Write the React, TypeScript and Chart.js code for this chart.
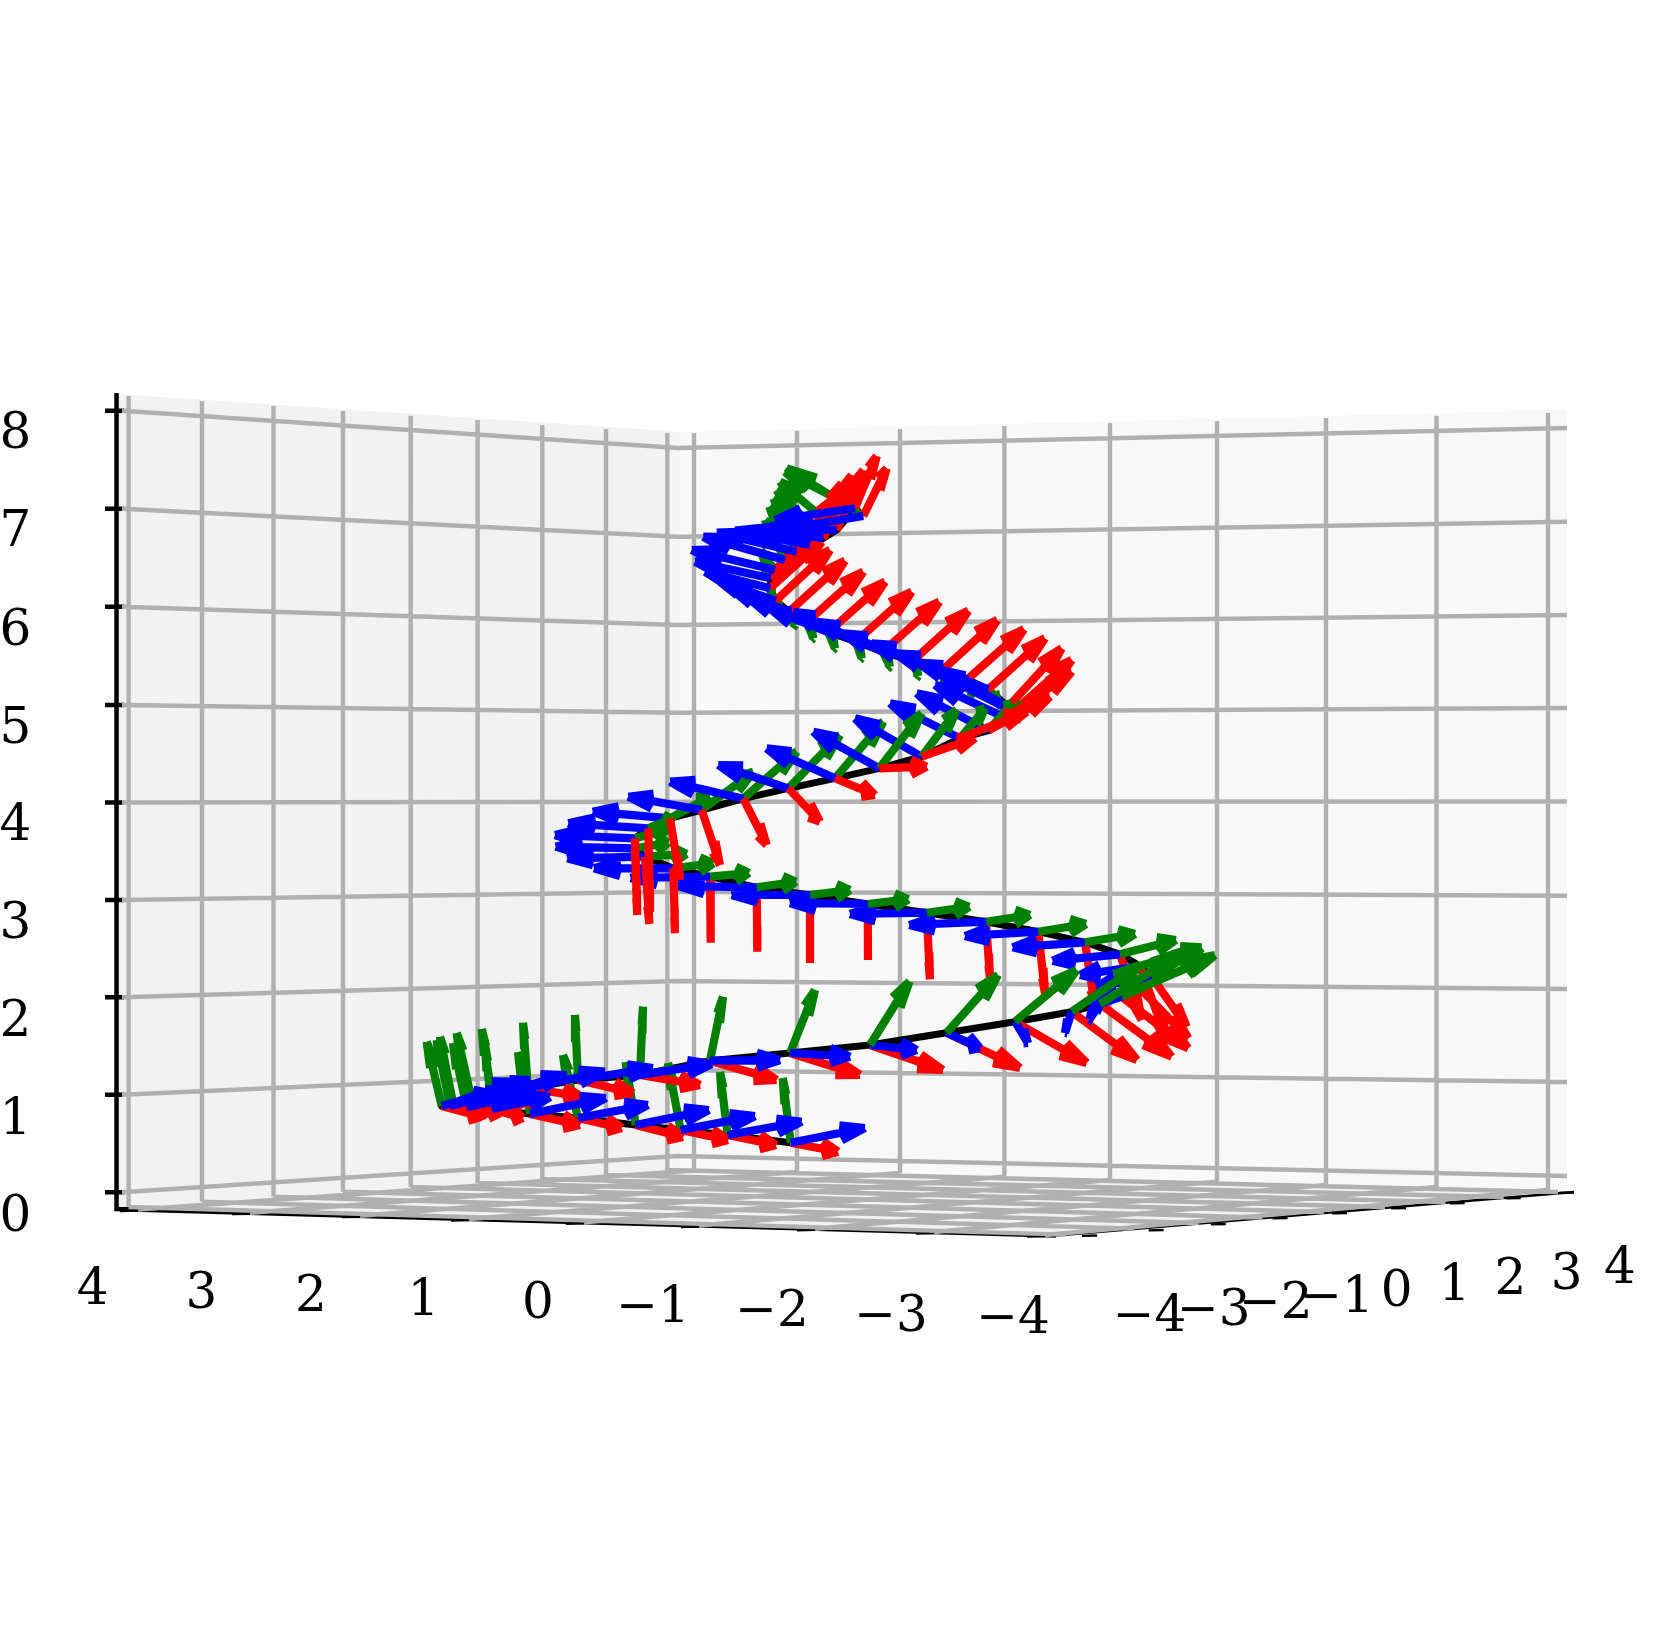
import React, { useEffect, useRef } from "react";
import { Chart, registerables } from "chart.js";

Chart.register(...registerables);

// ---- frames along the helix (image units) ----
const helixX = [790.7,727.7,680.7,635.7,578,530,491.7,466.7,450,441.7,453,471.7,491.7,528,578,640,710,790,870,946.7,1015,1071.7,1100,1121.7,1140,1151.7,1140,1120,1085,1038.3,986,926.7,867.7,810,756.7,710,673.3,645,635,635,648.3,670,701.7,743.3,788.3,835,879.3,921.7,960,988.3,1006.7,1013.3,1008.3,988.3,967.3,941.7,912.3,882.7,855.7,828.3,806.7,789,775.7,770,770.7,775,785,796.7,810,823.3,836.7,855,863.3];
const helixY = [1142.7,1135,1130,1125,1118,1114,1109,1107.3,1106,1106,1103,1100,1095,1088,1080,1075,1060.7,1053,1045,1032.7,1021.7,1011.7,1004,996.7,988.3,976.7,966,954.3,942.3,931.7,921.7,912.7,904,895,887.3,876.7,868.3,856.7,848.3,838.3,828.3,818.3,810,798.7,788.3,778.3,768.3,756.7,738.3,730.7,718.3,711.7,706.7,689.3,679.3,670.7,661.3,651.7,641.7,632.3,622.3,611.7,600.7,588.3,578.3,570,560,551.7,545,538.3,530,508.3,516];
const redTipX = [838,776,728,683,621.7,580,523,500,485,481.7,496.7,525,543,581.7,633,700,776.7,860,943,1020,1086.7,1137,1171.7,1188.3,1188.3,1186.7,1166.7,1141.7,1095,1045,990,930,868,810,757.3,710.7,675,649.3,637.3,637,650,680,720,766.7,820,875,926.7,975,1026.7,1050,1071.7,1071.7,1061.7,1045,1024,997.3,968.3,939.3,911.7,885,863.3,845,830,821.7,816.7,813.3,823.3,831.7,841.7,851.7,863.3,876.7,886.7];
const redTipY = [1151.7,1145,1140,1137,1128,1125,1118,1113,1115,1116.7,1110,1103,1099,1096.7,1093,1085,1080,1075,1070,1068,1063,1060,1056.7,1048.3,1038.3,1026.7,1040,1020,1006.7,993.3,978.3,979.3,960,963,951.7,942.7,933.3,924,915,905,912,880,865,845,821.7,795,766.7,738,711.7,696.7,671.7,660,648.3,638.3,629.3,620,610.7,601.7,591.7,581.7,571.7,560.7,550,541.7,543.3,530,520,500,483.3,475,470,456,468.3];
const greenTipX = [782.7,720,668,625.7,563,518,485,453,436.7,426.7,440,456.7,481.7,523,575,643,723,815,909.5,998,1076.7,1140,1185,1215,1213.3,1201.7,1201.7,1176,1135,1086,1030,969.3,908.3,850,796,749,713.3,686.7,668.3,666.7,671,710,753.3,796.7,840,883.3,921.7,956.7,985,1011.7,1021.7,1018,1013.3,998.3,971.7,945,918.3,890,861.7,835,813.3,795,780,771.7,765,761.7,765,769.3,773.3,776.7,780,785,786.7];
const greenTipY = [1078,1072,1063,1062,1055,1052,1045,1043,1040,1041.7,1036.7,1033,1029,1022.7,1015,1006.7,996.7,990,981.5,975,970,965,950,955,956.7,948.3,947.3,940,934,924,915,906.7,899.3,890,881.7,873,863.3,854,842.7,830,818.7,796.7,771.7,751.7,735,721.7,713.3,710,708.3,703.3,706.7,716.7,713.3,703.3,694,685,676,666.7,658.3,648.3,638.3,625,613.3,596.7,570,553.3,520,506.7,498.3,490,481.7,471.7,468.3];
const blueTipX = [865,801.7,755,709,648,606,550,530,503,490,513,530,566.7,605,653,711.7,780,850,916.7,980,1028,1065,1089.3,1091.7,1096.7,1096.7,1080,1052.7,1012.7,965,909.3,850,790,731.7,678,630.7,594,567.3,555.7,555,568.3,592.7,628.3,670,718.3,766.7,813.3,855,890,916.7,935,941.7,940,918.3,895,871.7,843.3,816.7,793.3,771.7,750.7,733.3,720,705,695,691.7,703.3,716.7,735,755,773.3,775,788.3];
const blueTipY = [1128,1121.7,1116,1110,1105,1098,1097,1093,1092,1093,1081.7,1080,1075,1071.7,1068,1064,1060,1056.7,1050,1048,1043,1033,1019.3,1006.7,996.7,986.7,975,960.7,947.3,936,925,914,903,895,886,878,868.3,858.3,846.7,835,823.3,811.7,796.7,781.7,765,748.3,731.7,718.3,703.3,693.3,685,675,670,662.7,653.3,643.3,633.3,621.7,611.7,610,600,590.7,581.7,571.7,561.7,550,536.7,532.7,530.7,529.3,528.3,520,528.3];

// painting: frame ranges and the colours from bottom to top
const paintFrom = [0, 18, 36, 51, 42, 46];
const paintTo = [17, 35, 41, 72, 45, 50];
const paintLayers = ["grb", "rbg", "bgr", "grb", "gbr", "bgr"];

// ---- grid ----
const zLeftY = [1192.3,1094.7,997.3,900,802.5,705,606.7,508.7,410.7];
const zCornerY = [1156,1070,981,891.7,801.7,712.7,625,536.7,448];
const zRightY = [1176,1082,989,895.7,801.5,708,615,521.7,428];
const leftGridX = [128.6,202,273.5,343,410.7,477.6,542.3,606,667.3];
const leftGridTop = [396,401,406,411,415.7,420,425,429,433];
const leftGridBottom = [1207,1201.7,1196.7,1191.7,1187,1183,1179,1175,1170];
const rightGridX = [694,797,900,1004.4,1110,1217,1326,1436.5,1548];
const rightGridTop = [433,430.7,429,426,423,421,418,415.7,413];
const rightGridBottom = [1170.5,1172,1173,1176.7,1180,1181.7,1185,1187,1190];
const frontLeftX = [138,250,360,469,584,699,815,934,1045];
const frontLeftY = [1209.5,1212.7,1215.7,1219,1222.3,1225.5,1228.8,1232,1235];
const frontRightX = [1066,1134.6,1198.8,1262.5,1324,1385,1445.6,1503.7,1558];
const frontRightY = [1234.6,1228.6,1223,1217.5,1212,1207,1202,1197,1192];
const rightTickEndX = [1097,1163.6,1225.8,1287.5,1347,1406,1464.6,1520.7,1574];
const rightTickEndY = [1235.5,1230,1224,1218,1213,1208,1203,1198,1192.5];

// ---- panes ----
const leftPaneX = [116.5,670,670,116.5];
const leftPaneY = [394,431,1171,1209];
const bandPaneX = [670,680,680,670];
const bandPaneY = [431,432,1170,1171];
const rightPaneX = [680,1567,1567,680];
const rightPaneY = [432,410,1190,1170];
const floorPaneX = [116.5,1056,1574,680];
const floorPaneY = [1209,1235.5,1192,1170];

// ---- tick labels ----
const zLabels = ["0","1","2","3","4","5","6","7","8"];
const zLabelX = [15.5,15.5,15.5,15.5,15.5,15.5,15.5,15.5,15.5];
const zLabelY = [1213,1116,1018,920,822,724.6,626.7,528,430];
const xLabels = ["4","3","2","1","0","\u22121","\u22122","\u22123","\u22124"];
const xLabelX = [92.6,201.5,311,423.5,538,653,772,891,1013];
const xLabelY = [1286,1290,1293.3,1296.7,1300,1303.7,1307.5,1312.5,1315];
const yLabels = ["\u22124","\u22123","\u22122","\u22121","0","1","2","3","4"];
const yLabelX = [1149.5,1213.8,1275.8,1337,1396.7,1454.4,1510.5,1566.6,1620];
const yLabelY = [1313,1306.7,1300,1294.3,1288,1281.7,1276,1270.7,1265];

type P = { x: number; y: number };
const GAP: P = { x: NaN, y: NaN };

const COLORS: Record<string, [number[], number[]]> = {
  r: [redTipX, redTipY],
  g: [greenTipX, greenTipY],
  b: [blueTipX, blueTipY],
};
const HUES: Record<string, string> = { r: "#ff0000", g: "#008000", b: "#0000ff" };

// one quiver arrow: a shaft and two barbs that spread in the plane holding the vertical
function arrowPoints(bx: number, by: number, tx: number, ty: number): P[] {
  const dx = tx - bx;
  const dy = ty - by;
  const h = Math.max(Math.sqrt(Math.max(85 * 85 - dy * dy, 0)), 25);
  const sx = (dy * dx) / h;
  const sy = -h;
  const k = 0.09;
  const ax = tx - 0.33 * dx;
  const ay = ty - 0.33 * dy;
  return [
    { x: bx, y: by }, { x: tx, y: ty }, GAP,
    { x: ax + k * sx, y: ay + k * sy }, { x: tx, y: ty }, GAP,
    { x: ax - k * sx, y: ay - k * sy }, { x: tx, y: ty }, GAP,
  ];
}

function line(data: P[], color: string, width: number, join: CanvasLineJoin = "bevel") {
  return {
    data,
    showLine: true,
    borderColor: color,
    backgroundColor: color,
    borderWidth: width,
    borderCapStyle: "butt" as const,
    borderJoinStyle: join,
    pointRadius: 0,
    pointHoverRadius: 0,
    tension: 0,
    fill: false,
    spanGaps: false,
    clip: false,
  };
}

function pane(xs: number[], ys: number[], color: string) {
  return {
    ...line(xs.map((x, i) => ({ x, y: ys[i] })), color, 0),
    backgroundColor: color,
    fill: "shape",
  };
}

function buildDatasets() {
  const painted: any[] = [];
  painted.push(pane(leftPaneX, leftPaneY, "#f2f2f2"));
  painted.push(pane(rightPaneX, rightPaneY, "#f8f8f8"));
  painted.push(pane(bandPaneX, bandPaneY, "#f5f5f5"));
  painted.push(pane(floorPaneX, floorPaneY, "#f1f1f1"));

  // spines
  painted.push(line([{ x: 116.5, y: 393 }, { x: 116.5, y: 1209 }, { x: 1056, y: 1235.5 }], "#000000", 4.5, "miter"));
  painted.push(line([{ x: 1056, y: 1235.5 }, { x: 1574, y: 1192 }], "#000000", 2.4));

  // ticks
  const ticks: P[] = [];
  zLeftY.forEach((y) => ticks.push({ x: 105, y }, { x: 124, y }, GAP));
  frontLeftX.forEach((x, i) => ticks.push({ x, y: frontLeftY[i] }, { x: x - 18, y: frontLeftY[i] + 0.4 }, GAP));
  painted.push(line(ticks, "#000000", 4.5));
  const thinTicks: P[] = [];
  rightTickEndX.forEach((x, i) => thinTicks.push({ x: x - 15, y: rightTickEndY[i] + 0.4 }, { x, y: rightTickEndY[i] }, GAP));
  painted.push(line(thinTicks, "#000000", 2.4));

  // grid
  const grid: P[] = [];
  zLeftY.forEach((y, i) => {
    grid.push({ x: 122, y }, { x: 678, y: zCornerY[i] }, { x: 1567, y: zRightY[i] }, GAP);
  });
  leftGridX.forEach((x, i) => grid.push({ x, y: leftGridTop[i] }, { x, y: leftGridBottom[i] }, GAP));
  rightGridX.forEach((x, i) => grid.push({ x, y: rightGridTop[i] }, { x, y: rightGridBottom[i] }, GAP));
  leftGridX.forEach((x, i) => grid.push({ x, y: leftGridBottom[i] }, { x: frontRightX[i], y: frontRightY[i] }, GAP));
  rightGridX.forEach((x, i) => grid.push({ x, y: rightGridBottom[i] }, { x: frontLeftX[i], y: frontLeftY[i] }, GAP));
  painted.push(line(grid, "#b0b0b0", 4.4));

  // helix
  painted.push(line(helixX.map((x, i) => ({ x, y: helixY[i] })), "#000000", 7, "round"));

  // arrows
  paintLayers.forEach((layers, s) => {
    for (const c of layers) {
      const [tx, ty] = COLORS[c];
      const pts: P[] = [];
      for (let i = paintFrom[s]; i <= paintTo[s]; i++) {
        pts.push(...arrowPoints(helixX[i], helixY[i], tx[i], ty[i]));
      }
      painted.push(line(pts, HUES[c], 8.2));
    }
  });

  return painted.map((d, i) => ({ ...d, order: painted.length - i }));
}

const labelPlugin = {
  id: "tickLabels",
  afterDraw(chart: any) {
    const { ctx, scales } = chart;
    ctx.save();
    ctx.fillStyle = "#000000";
    ctx.font = '50px "DejaVu Serif"';
    ctx.textAlign = "center";
    ctx.textBaseline = "alphabetic";
    const put = (labels: string[], xs: number[], ys: number[]) =>
      labels.forEach((t, i) => {
        ctx.fillText(t, scales.x.getPixelForValue(xs[i]), scales.y.getPixelForValue(ys[i]) + 18);
      });
    put(zLabels, zLabelX, zLabelY);
    put(xLabels, xLabelX, xLabelY);
    put(yLabels, yLabelX, yLabelY);
    ctx.restore();
  },
};

export default function App() {
  const ref = useRef<HTMLCanvasElement>(null);
  useEffect(() => {
    const chart = new Chart(ref.current as HTMLCanvasElement, {
      type: "scatter",
      data: { datasets: buildDatasets() as any },
      options: {
        animation: false,
        responsive: false,
        events: [],
        layout: { padding: 0 },
        plugins: { legend: { display: false }, tooltip: { enabled: false }, title: { display: false } },
        scales: {
          x: { type: "linear", display: false, min: 0, max: 1660 },
          y: { type: "linear", display: false, min: 0, max: 1649, reverse: true },
        },
      },
      plugins: [labelPlugin],
    } as any);
    return () => chart.destroy();
  }, []);
  return (
    <div style={{ position: "absolute", left: 0, top: 0, width: 1660, height: 1649, background: "#ffffff" }}>
      <canvas ref={ref} width={1660} height={1649} style={{ display: "block" }} />
    </div>
  );
}
